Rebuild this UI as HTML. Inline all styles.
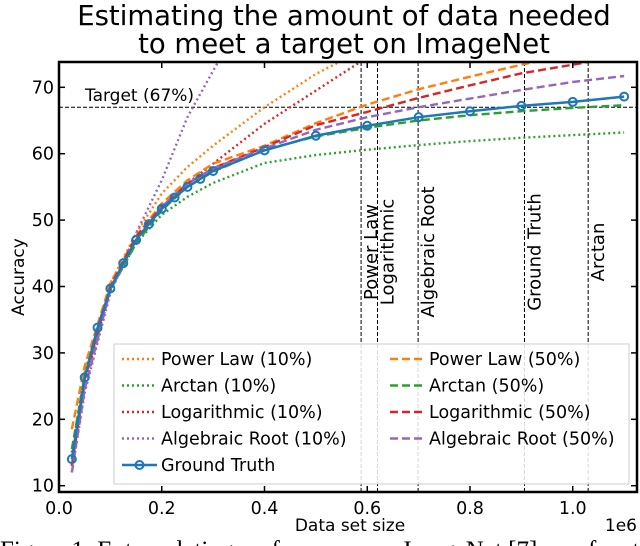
<!DOCTYPE html>
<html><head><meta charset="utf-8"><style>
body{margin:0;background:#fff;width:640px;height:546px;overflow:hidden}
svg{display:block;font-family:"DejaVu Sans","Liberation Sans",sans-serif}
</style></head><body>
<svg id="chart" width="640" height="546" viewBox="0 0 640 546">
<text x="344" y="25" font-size="27.5" text-anchor="middle">Estimating the amount of data needed</text>
<text x="344" y="53" font-size="27.5" text-anchor="middle">to meet a target on ImageNet</text>
<defs><clipPath id="plotclip"><rect x="59" y="62" width="578" height="430"/></clipPath></defs>
<g id="plot" clip-path="url(#plotclip)"></g>
<g id="axes"></g>
<text transform="translate(24,277) rotate(-90)" font-size="17" text-anchor="middle">Accuracy</text>
<text x="350" y="531" font-size="17" text-anchor="middle">Data set size</text>
<text x="637" y="531" font-size="17" text-anchor="end">1e6</text>
<text x="0" y="558" font-size="25" font-family="Liberation Serif, serif">Figure 1:   Extrapolating performance on ImageNet [7] as a function</text>
<g id="legend"></g>
</svg>
<script>
const xTicks=[0.0,0.2,0.4,0.6,0.8,1.0];
const yTicks=[10,20,30,40,50,60,70];
const gtX=[0.025,0.05,0.075,0.1,0.125,0.15,0.175,0.2,0.225,0.25,0.275,0.3,0.4,0.5,0.6,0.7,0.8,0.9,1.0,1.1];
const gtY=[14,26.3,33.8,39.7,43.5,47,49.4,51.7,53.4,55,56.2,57.4,60.5,62.7,64.2,65.5,66.4,67.2,67.8,68.6];
const fitX=[0.025,0.05,0.1,0.15,0.2,0.25,0.3,0.4,0.5,0.6,0.7,0.8,0.9,1.0,1.1];
const pl10=[15,27,40.5,48,54,58,61.2,67,72,76,80,84,88,92,96];
const arc10=[15,27,39.5,46.5,50.8,53.5,55.6,58.6,59.8,60.6,61.3,61.9,62.4,62.8,63.2];
const log10=[13,25.5,39.5,47,52,55.5,58.5,64.5,69.5,74.5,79,83,87,90,93];
const ar10=[12,24,39,48,56,65.5,72.5,86,98,110,120,130,140,150,160];
const pl50=[18.5,28,40.5,47.5,52.5,56,58.5,61.2,64.6,67.4,69.7,71.6,73.4,75,76.5];
const arc50=[15.5,26.5,39.5,46.5,51.5,55,57.3,60.6,62.6,63.9,65.0,65.8,66.4,66.9,67.3];
const log50=[13,26,40,47.5,52,55.5,57.8,61,64.3,66.3,68.4,70.3,72.1,73.4,74.8];
const ar50=[12,24.5,39.5,47,52,55.5,57.8,60.8,63.6,65.5,67,68.3,69.6,70.8,71.7];
const target=67;
const markerNames=["Power Law","Logarithmic","Algebraic Root","Ground Truth","Arctan"];
const markerX=[0.588,0.620,0.699,0.906,1.030];

const NS="http://www.w3.org/2000/svg";
const X=v=>59+513.75*v;
const Y=v=>485.7-(v-10)*6.64;
function mk(tag,attrs,parent){const e=document.createElementNS(NS,tag);for(const k in attrs)e.setAttribute(k,attrs[k]);parent.appendChild(e);return e;}
const plot=document.getElementById('plot'),axes=document.getElementById('axes'),legend=document.getElementById('legend');

markerX.forEach((m,i)=>{
  const l=mk('line',{x1:X(m),x2:X(m),y1:62,y2:492,stroke:'#000','stroke-width':1,'stroke-dasharray':'4,2'},plot);
  
  
  const t=mk('text',{transform:`translate(${X(m)+16},252) rotate(-90)`,'font-size':18,'text-anchor':'middle'},axes);
  t.textContent=markerNames[i];
  
  
});
const tl=mk('line',{x1:59,x2:637,y1:Y(target),y2:Y(target),stroke:'#000','stroke-width':1,'stroke-dasharray':'4,2'},plot);


const tt=mk('text',{x:85,y:Y(target)-6,'font-size':17},axes);
tt.textContent='Target (67%)';



const series=[
 {n:'power-law-10',d:pl10,c:'#ff7f0e',dash:'2,3'},
 {n:'arctan-10',d:arc10,c:'#2ca02c',dash:'2,3'},
 {n:'logarithmic-10',d:log10,c:'#d62728',dash:'2,3'},
 {n:'algebraic-root-10',d:ar10,c:'#9467bd',dash:'2,3'},
 {n:'power-law-50',d:pl50,c:'#ff7f0e',dash:'8,4'},
 {n:'arctan-50',d:arc50,c:'#2ca02c',dash:'8,4'},
 {n:'logarithmic-50',d:log50,c:'#d62728',dash:'8,4'},
 {n:'algebraic-root-50',d:ar50,c:'#9467bd',dash:'8,4'}];
series.forEach(s=>{
  const p=mk('polyline',{points:fitX.map((x,i)=>X(x)+','+Y(s.d[i])).join(' '),fill:'none',stroke:s.c,'stroke-width':2.4,'stroke-dasharray':s.dash},plot);
  
  
});
const gl=mk('polyline',{points:gtX.map((x,i)=>X(x)+','+Y(gtY[i])).join(' '),fill:'none',stroke:'#1f77b4','stroke-width':2.5},plot);


gtX.forEach((x,i)=>{
  const c=mk('circle',{cx:X(x),cy:Y(gtY[i]),r:4,fill:'none',stroke:'#1f77b4','stroke-width':2},plot);
  
  
});

const fr=mk('rect',{x:59,y:62,width:578,height:430,fill:'none',stroke:'#000','stroke-width':2.5},axes);


xTicks.forEach(v=>{
  mk('line',{x1:X(v),x2:X(v),y1:492,y2:486,stroke:'#000','stroke-width':1.5},axes);
  mk('line',{x1:X(v),x2:X(v),y1:62,y2:68,stroke:'#000','stroke-width':1.5},axes);
  const t=mk('text',{x:X(v),y:514,'font-size':17.5,'text-anchor':'middle'},axes);
  t.textContent=v.toFixed(1);
  
  
});
yTicks.forEach(v=>{
  mk('line',{x1:59,x2:65,y1:Y(v),y2:Y(v),stroke:'#000','stroke-width':1.5},axes);
  mk('line',{x1:637,x2:631,y1:Y(v),y2:Y(v),stroke:'#000','stroke-width':1.5},axes);
  const t=mk('text',{x:54,y:Y(v)+6,'font-size':17.5,'text-anchor':'end'},axes);
  t.textContent=v;
  
  
});

const lb=mk('rect',{x:114,y:344,width:515,height:140,fill:'#fff','fill-opacity':0.85,stroke:'#ccc','stroke-width':1},legend);


const entries=[
 ['Power Law (10%)',0,0,'#ff7f0e','2,3',false],['Arctan (10%)',0,1,'#2ca02c','2,3',false],
 ['Logarithmic (10%)',0,2,'#d62728','2,3',false],['Algebraic Root (10%)',0,3,'#9467bd','2,3',false],
 ['Ground Truth',0,4,'#1f77b4','',true],
 ['Power Law (50%)',1,0,'#ff7f0e','8,4',false],['Arctan (50%)',1,1,'#2ca02c','8,4',false],
 ['Logarithmic (50%)',1,2,'#d62728','8,4',false],['Algebraic Root (50%)',1,3,'#9467bd','8,4',false]];
entries.forEach(e=>{
  const x0=e[1]?390:122,y0=359+e[2]*26.5;
  const g=mk('g',{},legend);
  
  
  const a={x1:x0,x2:x0+35,y1:y0,y2:y0,stroke:e[3],'stroke-width':e[5]?2.5:2.4};
  if(e[4])a['stroke-dasharray']=e[4];
  mk('line',a,g);
  if(e[5])mk('circle',{cx:x0+17.5,cy:y0,r:4,fill:'none',stroke:e[3],'stroke-width':2},g);
  const t=mk('text',{x:x0+39,y:y0+6,'font-size':17.5},g);
  t.textContent=e[0];
});
</script>
</body></html>
